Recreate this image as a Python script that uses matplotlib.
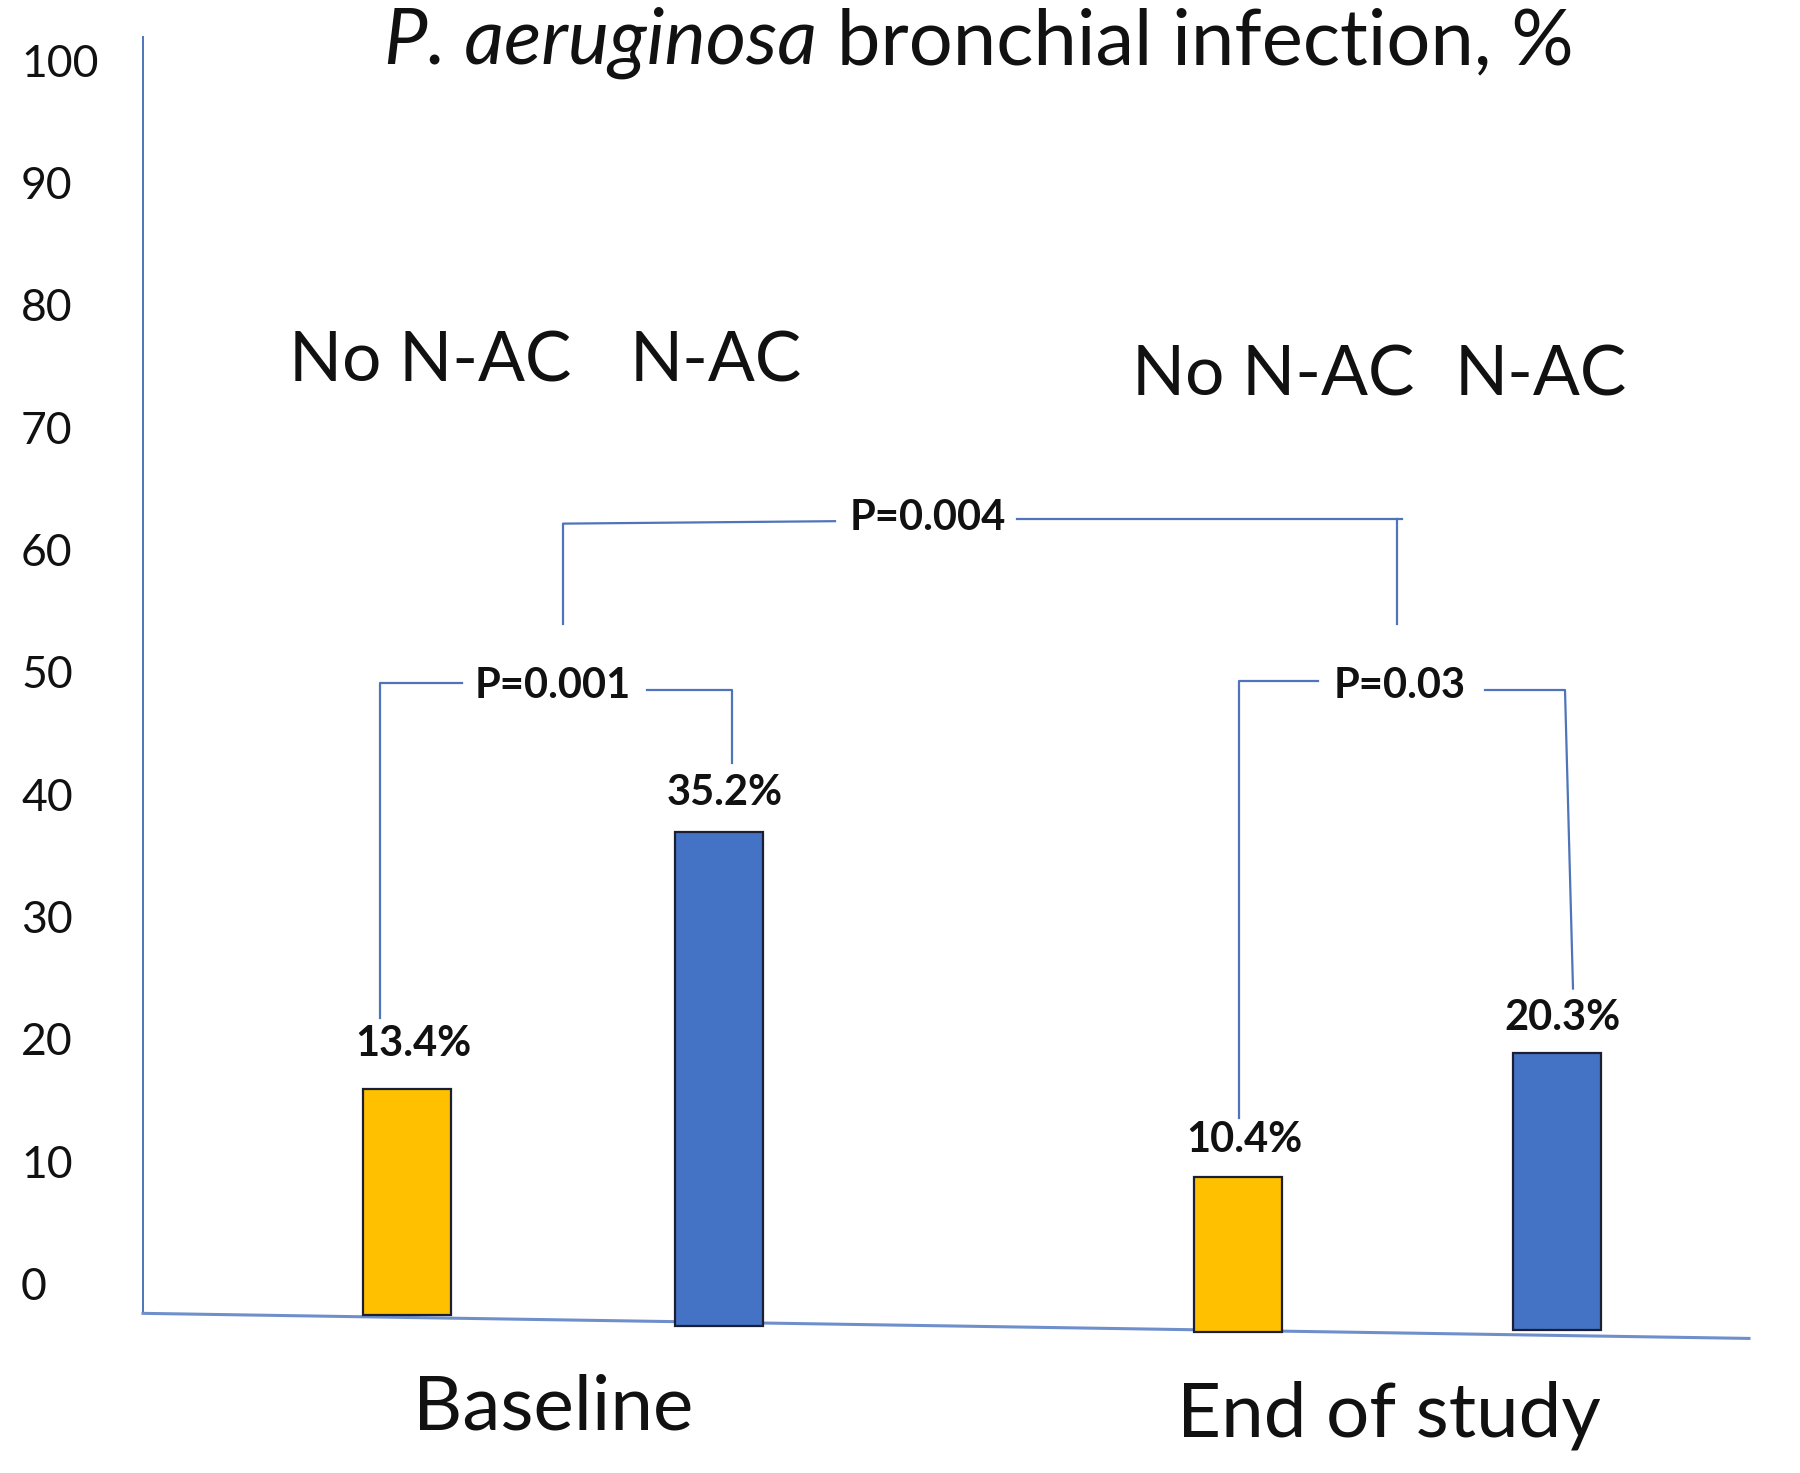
import matplotlib
matplotlib.use('Agg')
from matplotlib import pyplot as plt

plt.rcParams['font.family'] = ['Lato', 'DejaVu Sans']

# data (bar heights as drawn against the printed scale)
groups = ['Baseline', 'End of study']
series = ['No N-AC', 'N-AC']
bar_tops = [15.9, 36.9, 8.7, 18.8]
bar_bottoms = [-2.6, -3.5, -4.0, -3.8]
value_labels = ['13.4%', '35.2%', '10.4%', '20.3%']
p_labels = ['P=0.001', 'P=0.03', 'P=0.004']
y_ticks = [0, 10, 20, 30, 40, 50, 60, 70, 80, 90, 100]

bar_colors = ['#FFC000', '#4472C4', '#FFC000', '#4472C4']
line_color = '#4F74BA'

fig = plt.figure(figsize=(18, 14.73), dpi=100)
ax = fig.add_axes([0, 0, 1, 1])
ax.set_xlim(0, 1800)
ax.set_ylim(-15.5, 104.9)
ax.axis('off')

# bars
bar_x = [407, 719, 1238, 1557]
heights = [t - b for t, b in zip(bar_tops, bar_bottoms)]
ax.bar(bar_x, heights, width=88, bottom=bar_bottoms, color=bar_colors,
       edgecolor='#1a1f33', linewidth=1.6, zorder=3)

label_y = [19.6, 40.1, 11.7, 21.7]
for x, y, s in zip(bar_x, label_y, value_labels):
    ax.text(x + 6, y, s, ha='center', va='center', fontsize=30,
            fontweight='bold', color='#111111')

# axis lines (left axis and slanted base)
ax.plot([143, 143], [101.9, -2.45], color=line_color, lw=1.4, zorder=2)
ax.plot([143, 1749], [-2.45, -4.5], color='#6F8FCB', lw=2.2, zorder=2)

for t in y_ticks:
    ax.text(21, t - 0.35, str(t), ha='left', va='center', fontsize=32,
            color='#111111')

# significance brackets
kw = dict(color=line_color, lw=1.6, zorder=2)
ax.plot([380, 380, 462], [21.7, 49.1, 49.1], **kw)
ax.plot([647, 732, 732], [48.5, 48.5, 42.5], **kw)
ax.text(553, 48.8, p_labels[0], ha='center', va='center', fontsize=30,
        fontweight='bold', color='#111111')

ax.plot([1239, 1239, 1318], [13.5, 49.2, 49.2], **kw)
ax.plot([1485, 1565, 1573], [48.5, 48.5, 24.1], **kw)
ax.text(1400, 48.8, p_labels[1], ha='center', va='center', fontsize=30,
        fontweight='bold', color='#111111')

ax.plot([563, 563, 835], [53.9, 62.1, 62.3], **kw)
ax.plot([1017, 1402], [62.5, 62.5], **kw)
ax.plot([1397, 1397], [62.5, 53.9], **kw)
ax.text(928, 62.6, p_labels[2], ha='center', va='center', fontsize=30,
        fontweight='bold', color='#111111')

# series names above each group
for cx, cy, s in zip([430, 716, 1273, 1541], [75.3, 75.3, 74.2, 74.2],
                     series + series):
    ax.text(cx, cy, s, ha='center', va='center', fontsize=50, color='#111111')

# group names below
for cx, cy, s in zip([553, 1389], [-10.2, -10.8], groups):
    ax.text(cx, cy, s, ha='center', va='center', fontsize=55, color='#111111')

# title: italic species name followed by plain text, centred as one line
title_y = 101.4
title = ax.text(990, title_y, 'P. aeruginosa bronchial infection, %', ha='center',
                va='center', fontsize=56, color='#111111', alpha=0)
fig.canvas.draw()
bb = title.get_window_extent()
x0 = ax.transData.inverted().transform((bb.x0, bb.y0))[0]
t1 = ax.text(x0, title_y, 'P. aeruginosa', ha='left', va='center', fontsize=56,
             style='italic', color='#111111')
fig.canvas.draw()
bb1 = t1.get_window_extent()
x1 = ax.transData.inverted().transform((bb1.x1, bb1.y0))[0]
ax.text(x1, title_y, ' bronchial infection, %', ha='left', va='center',
        fontsize=56, color='#111111')

fig.savefig('out.png', dpi=100)
